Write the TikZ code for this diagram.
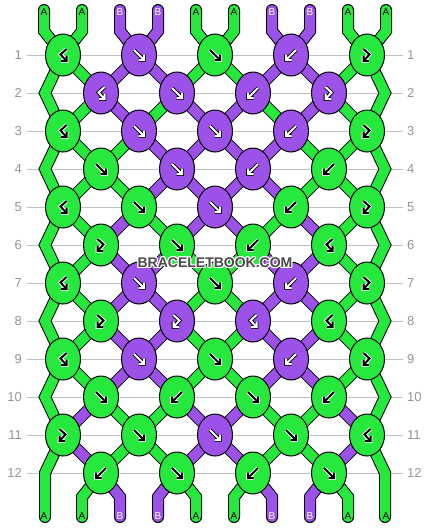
\documentclass[tikz,border=0pt]{standalone}
\usepackage{fontspec}
\setmainfont{Liberation Sans}
\usetikzlibrary{shapes.geometric}
\pgfdeclarelayer{bg}
\pgfsetlayers{bg,main}
\definecolor{colA}{HTML}{27E83D}
\definecolor{colB}{HTML}{9C52E8}
\definecolor{ltA}{HTML}{000000}
\definecolor{ltB}{HTML}{FFFFFF}
\definecolor{rowgray}{HTML}{959595}
\definecolor{gridgray}{HTML}{C0C0C0}
\definecolor{wmgray}{HTML}{4A4A4A}
\tikzset{
 knot/.style={ellipse, draw=black, line width=1pt, minimum width=35pt, minimum height=42pt, inner sep=0pt},
 str/.style={draw=black, line width=1pt, double=#1, double distance=10pt, line join=miter, line cap=round},
 gloA/.style={draw=white, line width=3.8pt, line cap=square, line join=miter},
 gliA/.style={draw=black, line width=2pt, line cap=square, line join=miter},
 gloB/.style={draw=black, line width=3.8pt, line cap=square, line join=miter},
 gliB/.style={draw=white, line width=2pt, line cap=square, line join=miter},
 pics/gF/.style={code={
   \draw[glo#1] (-5,-5)--(5,5) (5,-0.5)--(5,5)--(-0.5,5);
   \draw[gli#1] (-5,-5)--(5,5) (5,-0.5)--(5,5)--(-0.5,5);}},
 pics/gB/.style={code={
   \draw[glo#1] (5,-5)--(-5,5) (-5,-0.5)--(-5,5)--(0.5,5);
   \draw[gli#1] (5,-5)--(-5,5) (-5,-0.5)--(-5,5)--(0.5,5);}},
 pics/gFB/.style={code={
   \draw[glo#1] (-3.5,-6)--(2.5,-0.5)--(-3.5,6) (-3.5,0.5)--(-3.5,6)--(2,6);
   \draw[gli#1] (-3.5,-6)--(2.5,-0.5)--(-3.5,6) (-3.5,0.5)--(-3.5,6)--(2,6);}},
 pics/gBF/.style={code={
   \draw[glo#1] (3.5,-6)--(-2.5,-0.5)--(3.5,6) (3.5,0.5)--(3.5,6)--(-2,6);
   \draw[gli#1] (3.5,-6)--(-2.5,-0.5)--(3.5,6) (3.5,0.5)--(3.5,6)--(-2,6);}},
 endlbl/.style={inner sep=0pt, font=\fontsize{10}{12}\selectfont},
 rowlbl/.style={inner sep=0pt, text=rowgray, font=\fontsize{13}{15}\selectfont},
 gridln/.style={draw=gridgray, line width=1pt},
 wm/.style={inner sep=0pt, font=\fontsize{14}{16}\selectfont\bfseries},
}
\newcommand\bbknot[4]{%
 \pgfmathsetmacro\kx{isodd(#1) ? 63+76*(#2-1) : 101+76*(#2-1)}%
 \pgfmathsetmacro\ky{55+38*(#1-1)}%
 \node[knot, fill=col#3] (k-#1-#2) at (\kx,\ky) {};%
 \pic at (k-#1-#2) {g#4=#3};%
}
\begin{document}
\begin{tikzpicture}[x=1pt,y=-1pt]
\useasboundingbox (0,0) rectangle (430,528);
% knots
\bbknot{1}{1}{A}{BF}\bbknot{1}{2}{B}{F}\bbknot{1}{3}{A}{F}\bbknot{1}{4}{B}{B}\bbknot{1}{5}{A}{FB}
\bbknot{2}{1}{B}{BF}\bbknot{2}{2}{B}{F}\bbknot{2}{3}{B}{B}\bbknot{2}{4}{B}{FB}
\bbknot{3}{1}{A}{BF}\bbknot{3}{2}{B}{F}\bbknot{3}{3}{B}{F}\bbknot{3}{4}{B}{B}\bbknot{3}{5}{A}{FB}
\bbknot{4}{1}{A}{F}\bbknot{4}{2}{B}{F}\bbknot{4}{3}{B}{B}\bbknot{4}{4}{A}{B}
\bbknot{5}{1}{A}{BF}\bbknot{5}{2}{A}{F}\bbknot{5}{3}{B}{F}\bbknot{5}{4}{A}{B}\bbknot{5}{5}{A}{FB}
\bbknot{6}{1}{A}{FB}\bbknot{6}{2}{A}{F}\bbknot{6}{3}{A}{B}\bbknot{6}{4}{A}{BF}
\bbknot{7}{1}{A}{BF}\bbknot{7}{2}{B}{F}\bbknot{7}{3}{A}{F}\bbknot{7}{4}{B}{B}\bbknot{7}{5}{A}{FB}
\bbknot{8}{1}{A}{FB}\bbknot{8}{2}{B}{FB}\bbknot{8}{3}{B}{BF}\bbknot{8}{4}{A}{BF}
\bbknot{9}{1}{A}{BF}\bbknot{9}{2}{B}{F}\bbknot{9}{3}{A}{F}\bbknot{9}{4}{B}{B}\bbknot{9}{5}{A}{FB}
\bbknot{10}{1}{A}{F}\bbknot{10}{2}{A}{B}\bbknot{10}{3}{A}{F}\bbknot{10}{4}{A}{B}
\bbknot{11}{1}{A}{FB}\bbknot{11}{2}{A}{F}\bbknot{11}{3}{B}{F}\bbknot{11}{4}{A}{F}\bbknot{11}{5}{A}{BF}
\bbknot{12}{1}{A}{B}\bbknot{12}{2}{A}{F}\bbknot{12}{3}{A}{B}\bbknot{12}{4}{A}{F}
\begin{pgfonlayer}{bg}
\fill[white] (0,0) rectangle (430,528);
\foreach \r in {1,...,12} {
  \pgfmathsetmacro\yy{55+38*(\r-1)}
  \draw[gridln] (27,\yy) -- (403,\yy);
}
% strings between rows
\foreach \r/\st in {1/{A,B,B,A,A,B,B,A},2/{A,B,A,B,B,A,B,A},3/{A,A,B,B,B,B,A,A},4/{A,A,B,B,B,B,A,A},5/{A,B,A,B,B,A,B,A},6/{A,B,B,A,A,B,B,A},7/{A,B,B,A,A,B,B,A},8/{A,B,B,A,A,B,B,A},9/{A,B,B,A,A,B,B,A},10/{B,A,A,B,B,A,A,B},11/{B,A,A,B,B,A,A,B}}{
  \pgfmathtruncatemacro\rn{\r+1}
  \foreach \c [count=\p] in \st {
    \pgfmathtruncatemacro\ia{isodd(\r) ? floor(\p/2)+1 : floor((\p-1)/2)+1}
    \pgfmathtruncatemacro\ib{isodd(\r) ? floor((\p-1)/2)+1 : floor(\p/2)+1}
    \draw[str=col\c] (k-\r-\ia.center) -- (k-\rn-\ib.center);
  }
}
% edge strings
\foreach \r in {1,3,5,7,9} {
  \pgfmathtruncatemacro\rb{\r+2}
  \pgfmathsetmacro\ym{55+38*\r}
  \coordinate (el\r) at (45,\ym);
  \coordinate (er\r) at (385,\ym);
  \draw[str=colA] (k-\r-1.center) -- (el\r) -- (k-\rb-1.center);
  \draw[str=colA] (k-\r-5.center) -- (er\r) -- (k-\rb-5.center);
}
\coordinate (el11) at (45,473); \coordinate (elb) at (45,517);
\coordinate (er11) at (385,473); \coordinate (erb) at (385,517);
\draw[str=colA] (k-11-1.center) -- (el11) -- (elb);
\draw[str=colA] (k-11-5.center) -- (er11) -- (erb);
% top strings
\foreach \c [count=\q from 0] in {A,A,B,B,A,A,B,B,A,A} {
  \pgfmathsetmacro\xx{44+38*\q}
  \pgfmathtruncatemacro\kk{floor(\q/2)+1}
  \coordinate (ta\q) at (\xx,10);
  \coordinate (tb\q) at (\xx,31);
  \draw[str=col\c] (ta\q) -- (tb\q) -- (k-1-\kk.center);
}
% bottom strings
\foreach \c [count=\q] in {A,B,B,A,A,B,B,A} {
  \pgfmathsetmacro\xx{44+38*\q}
  \pgfmathtruncatemacro\kk{floor((\q-1)/2)+1}
  \coordinate (ba\q) at (\xx,497);
  \coordinate (bb\q) at (\xx,517);
  \draw[str=col\c] (k-12-\kk.center) -- (ba\q) -- (bb\q);
}
\end{pgfonlayer}
% end labels
\foreach \c [count=\q from 0] in {A,A,B,B,A,A,B,B,A,A} {
  \pgfmathsetmacro\xx{44+38*\q}
  \node[endlbl, text=lt\c] (lt\q) at (\xx,12) {\c};
  \node[endlbl, text=lt\c] (lb\q) at (\xx,516) {\c};
}
% row numbers
\foreach \r in {1,...,12} {
  \pgfmathsetmacro\yy{55+38*(\r-1)}
  \node[rowlbl, anchor=east] (rl\r) at (22,\yy) {\r};
  \node[rowlbl, anchor=west] (rr\r) at (407,\yy) {\r};
}
% watermark
\foreach \dx/\dy [count=\n] in {-1/-1,0/-1,1/-1,-1/0,1/0,-1/1,0/1,1/1} {
  \node[wm, text=white] (wmh\n) at (215+\dx,263+\dy) {BRACELETBOOK.COM};
}
\node[wm, text=wmgray] (wm) at (215,263) {BRACELETBOOK.COM};
\end{tikzpicture}
\end{document}
